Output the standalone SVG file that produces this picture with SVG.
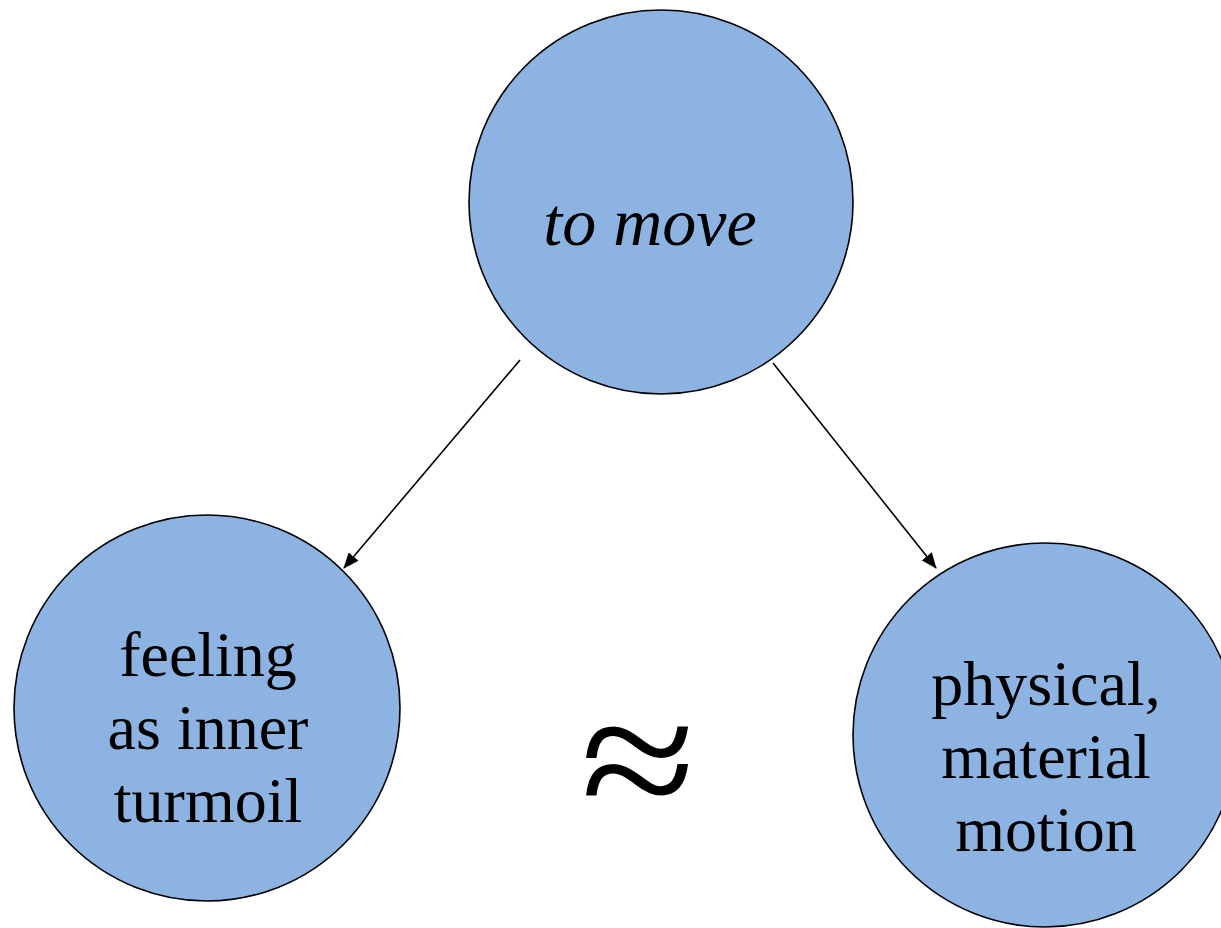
<svg xmlns="http://www.w3.org/2000/svg" width="1221" height="928" viewBox="0 0 1221 928">
<style>
.node{fill:#8DB3E2;stroke:#000;stroke-width:1.6}
.lbl{font-family:"Liberation Serif","Times New Roman",serif;font-size:64px;fill:#000;text-anchor:middle}
.edge{stroke:#000;stroke-width:1.6;fill:none}
</style>
<defs>
<marker id="arr" markerWidth="16" markerHeight="13" refX="15" refY="6.5" orient="auto" markerUnits="userSpaceOnUse" viewBox="0 0 16 13">
<path d="M0,0 L16,6.5 L0,13 z" fill="#000"/>
</marker>
</defs>
<rect width="1221" height="928" fill="#fff"/>
<g id="connectors">
<line class="edge" x1="520" y1="360" x2="344" y2="568" marker-end="url(#arr)"/>
<line class="edge" x1="773" y1="363" x2="936" y2="568" marker-end="url(#arr)"/>
</g>
<g id="node-to-move">
<circle class="node" cx="661" cy="202" r="192"/>
<text class="lbl" x="650" y="245" style="font-style:italic;font-size:68px">to move</text>
</g>
<g id="node-feeling">
<circle class="node" cx="207" cy="708" r="193"/>
<text class="lbl" x="208" y="676">feeling</text>
<text class="lbl" x="208" y="749">as inner</text>
<text class="lbl" x="208" y="822">turmoil</text>
</g>
<g id="node-physical">
<circle class="node" cx="1045" cy="735" r="192"/>
<text class="lbl" x="1046" y="705">physical,</text>
<text class="lbl" x="1046" y="778">material</text>
<text class="lbl" x="1046" y="851">motion</text>
</g>
<g id="approx">
<text class="lbl" transform="translate(638,823) scale(1.17,1.04)" x="0" y="0" style="font-size:180px">≈</text>
</g>
</svg>
